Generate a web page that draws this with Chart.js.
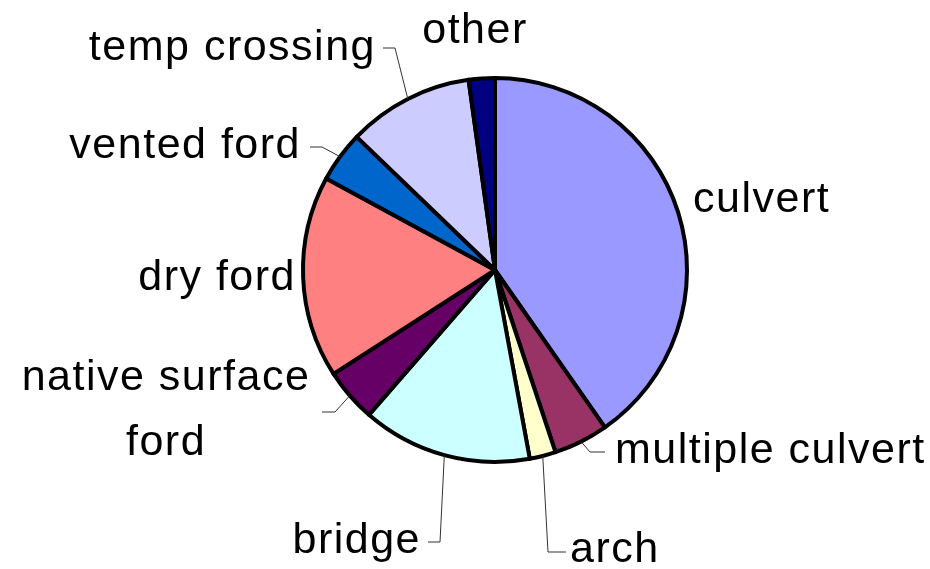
<!DOCTYPE html>
<html>
<head>
<meta charset="utf-8">
<script src="https://cdn.jsdelivr.net/npm/chart.js@4/dist/chart.umd.min.js"></script>
<style>
html,body{margin:0;padding:0;background:#fff;}
#wrap{width:930px;height:569px;position:relative;}
</style>
</head>
<body>
<div id="wrap"><canvas id="c" width="930" height="569"></canvas></div>
<script>
// ---- data ----
const categories = ["culvert", "multiple culvert", "arch", "bridge", "native surface ford", "dry ford", "vented ford", "temp crossing", "other"];
const shares = [40.3, 4.6, 2.2, 14.3, 4.5, 17.0, 4.3, 10.6, 2.2];
const labelLines = [["culvert"], ["multiple culvert"], ["arch"], ["bridge"], ["native surface", "ford"], ["dry ford"], ["vented ford"], ["temp crossing"], ["other"]];

// ---- styles / layout ----
const colors = ["#9999FF", "#993366", "#FFFFCC", "#CCFFFF", "#660066", "#FF8080", "#0066CC", "#CCCCFF", "#000080"];
// label placement: text anchor (baseline), alignment, optional leader elbow & end
const labelLayout = [
  {x: 693, y: 212, align: "left"},
  {x: 615, y: 463, align: "left", elbow: [590, 452], end: [605, 452]},
  {x: 570, y: 562, align: "left", elbow: [548, 552], end: [566, 552]},
  {x: 421, y: 553, align: "right", elbow: [440, 542], end: [428, 542]},
  {x: 166, y: 390, align: "center", lineGap: 65, elbow: [335, 412], end: [322, 412]},
  {x: 296, y: 290, align: "right"},
  {x: 301, y: 158, align: "right", elbow: [322, 147], end: [310, 147]},
  {x: 376, y: 60, align: "right", elbow: [395, 48], end: [383, 48]},
  {x: 475, y: 43, align: "center"}
];

const labelPlugin = {
  id: "outerLabels",
  afterDatasetsDraw(chart) {
    const ctx = chart.ctx;
    const meta = chart.getDatasetMeta(0);
    ctx.save();
    meta.data.forEach((arc, i) => {
      const L = labelLayout[i];
      const p = arc.getProps(["x", "y", "startAngle", "endAngle", "outerRadius"], true);
      const mid = (p.startAngle + p.endAngle) / 2;
      if (L.elbow) {
        const ax = p.x + Math.cos(mid) * p.outerRadius;
        const ay = p.y + Math.sin(mid) * p.outerRadius;
        ctx.beginPath();
        ctx.moveTo(ax, ay);
        ctx.lineTo(L.elbow[0], L.elbow[1]);
        ctx.lineTo(L.end[0], L.end[1]);
        ctx.strokeStyle = "#333";
        ctx.lineWidth = 1;
        ctx.stroke();
      }
      ctx.fillStyle = "#000";
      ctx.font = "43px 'Liberation Sans', Arial, sans-serif";
      ctx.textBaseline = "alphabetic";
      if ("letterSpacing" in ctx) ctx.letterSpacing = "1.5px";
      const lines = labelLines[i];
      lines.forEach((t, k) => {
        const w = ctx.measureText(t).width;
        let x = L.x;
        if (L.align === "right") x = L.x - w;
        else if (L.align === "center") x = L.x - w / 2;
        ctx.textAlign = "left";
        ctx.fillText(t, x, L.y + k * (L.lineGap || 0));
      });
    });
    ctx.restore();
  }
};

new Chart(document.getElementById("c"), {
  type: "pie",
  data: {
    labels: categories,
    datasets: [{
      data: shares,
      backgroundColor: colors,
      borderColor: "#000",
      borderWidth: 4,
      borderJoinStyle: "round"
    }]
  },
  options: {
    responsive: false,
    animation: false,
    layout: {padding: {left: 301, right: 241, top: 76, bottom: 105}},
    plugins: {legend: {display: false}, tooltip: {enabled: false}}
  },
  plugins: [labelPlugin]
});
</script>
</body>
</html>
